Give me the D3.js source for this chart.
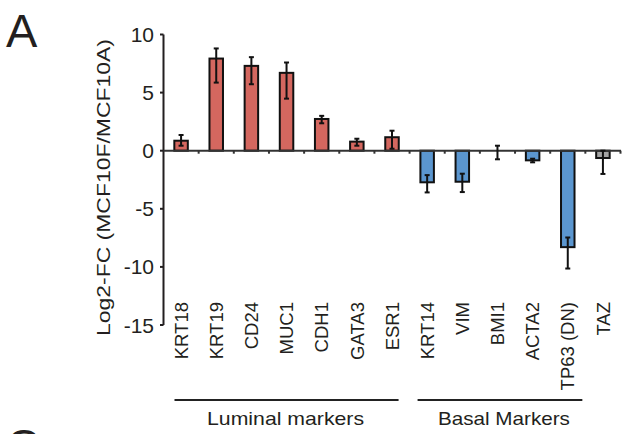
<!DOCTYPE html>
<html>
<head>
<meta charset="utf-8">
<script src="https://cdn.jsdelivr.net/npm/d3@7"></script>
<style>
  html, body { margin: 0; padding: 0; background: #fff; }
  svg { display: block; }
  text { font-family: "Liberation Sans", Arial, Helvetica, sans-serif; fill: #231f20; }
</style>
</head>
<body>
<svg id="chart" width="629" height="434"></svg>
<script>
// ---- data ----
const categories = ["KRT18", "KRT19", "CD24", "MUC1", "CDH1", "GATA3", "ESR1",
                    "KRT14", "VIM", "BMI1", "ACTA2", "TP63 (DN)", "TAZ"];
const values  = [0.86, 7.93, 7.3, 6.7, 2.73, 0.78, 1.16, -2.72, -2.67, 0.0, -0.83, -8.3, -0.63];
const errHigh = [1.35, 8.8, 8.05, 7.59, 3.0, 1.03, 1.72, -2.1, -1.98, 0.43, -0.69, -7.47, 0.0];
const errLow  = [0.43, 5.86, 5.72, 4.48, 2.36, 0.43, 0.17, -3.59, -3.56, -0.74, -1.0, -10.14, -2.0];
const groupOf = ["luminal", "luminal", "luminal", "luminal", "luminal", "luminal", "luminal",
                 "basal", "basal", "basal", "basal", "basal", "other"];
const yTicks = [-15, -10, -5, 0, 5, 10];
const groups = [
  { label: "Luminal markers", first: "KRT18", last: "ESR1" },
  { label: "Basal Markers", first: "KRT14", last: "TP63 (DN)" }
];

// ---- styles / layout ----
const colors = { luminal: "#d4675f", basal: "#5b96cf", other: "#a3a3a3" };
const ink = "#231f20";
const svg = d3.select("#chart");

const x = d3.scaleBand().domain(categories).range([163.5, 620.5]).padding(0);
const y = d3.scaleLinear().domain([-15, 10]).range([325, 34.5]);
const bw = x.bandwidth();
const barW = 13.5;
const cx = c => x(c) + bw / 2;

// panel letters
svg.append("text").attr("x", 6).attr("y", 47).attr("font-size", 47).text("A");
svg.append("text").attr("x", 6).attr("y", 462).attr("font-size", 47).text("C");

// y axis
const yAxis = svg.append("g");
yAxis.append("line")
  .attr("x1", 163.5).attr("x2", 163.5)
  .attr("y1", y(10)).attr("y2", y(-15))
  .attr("stroke", ink).attr("stroke-width", 2);
yAxis.selectAll("line.tick").data(yTicks).join("line")
  .attr("class", "tick")
  .attr("x1", 160).attr("x2", 163.5)
  .attr("y1", d => y(d)).attr("y2", d => y(d))
  .attr("stroke", ink).attr("stroke-width", 2);
yAxis.selectAll("text").data(yTicks).join("text")
  .attr("x", 154).attr("y", d => y(d))
  .attr("dy", "0.36em")
  .attr("text-anchor", "end")
  .attr("font-size", 21)
  .text(d => d);

// y axis title
svg.append("text")
  .attr("transform", `translate(110, ${(38 + 337) / 2}) rotate(-90)`)
  .attr("text-anchor", "middle")
  .attr("font-size", 18.5)
  .attr("textLength", 297)
  .attr("lengthAdjust", "spacingAndGlyphs")
  .text("Log2-FC (MCF10F/MCF10A)");

// bars
const data = categories.map((c, i) => ({ c, v: values[i], hi: errHigh[i], lo: errLow[i], g: groupOf[i] }));

svg.append("g").selectAll("rect").data(data).join("rect")
  .attr("x", d => cx(d.c) - barW / 2)
  .attr("width", barW)
  .attr("y", d => y(Math.max(0, d.v)))
  .attr("height", d => Math.abs(y(d.v) - y(0)))
  .attr("fill", d => colors[d.g])
  .attr("stroke", "#111")
  .attr("stroke-width", 2);

// zero axis line with ticks at band boundaries
const xAxis = svg.append("g");
xAxis.append("line")
  .attr("x1", 163.5).attr("x2", 621)
  .attr("y1", y(0)).attr("y2", y(0))
  .attr("stroke", "#333").attr("stroke-width", 2);
xAxis.selectAll("line.tick").data(categories).join("line")
  .attr("class", "tick")
  .attr("x1", d => x(d) + bw).attr("x2", d => x(d) + bw)
  .attr("y1", y(0)).attr("y2", y(0) + 3)
  .attr("stroke", "#333").attr("stroke-width", 2);

// error bars
const eb = svg.append("g").attr("stroke", "#111").attr("stroke-width", 2);
eb.selectAll("line.v").data(data).join("line")
  .attr("class", "v")
  .attr("x1", d => cx(d.c)).attr("x2", d => cx(d.c))
  .attr("y1", d => y(d.hi)).attr("y2", d => y(d.lo));
eb.selectAll("line.h").data(data.flatMap(d => [{ c: d.c, v: d.hi }, { c: d.c, v: d.lo }])).join("line")
  .attr("class", "h")
  .attr("x1", d => cx(d.c) - 2.5).attr("x2", d => cx(d.c) + 2.5)
  .attr("y1", d => y(d.v)).attr("y2", d => y(d.v));

// category labels
svg.append("g").selectAll("text").data(categories).join("text")
  .attr("transform", d => `translate(${cx(d)}, 302) rotate(-90)`)
  .attr("text-anchor", "end")
  .attr("dy", "0.36em")
  .attr("font-size", 18.5)
  .text(d => d);

// group brackets
const gpad = { "Luminal markers": [11, 11], "Basal Markers": [8, 3] };
const lumW = 157, basW = 132;
groups.forEach(g => {
  const x1 = x(g.first) + gpad[g.label][0];
  const x2 = x(g.last) + bw - gpad[g.label][1];
  svg.append("line")
    .attr("x1", x1).attr("x2", x2).attr("y1", 400).attr("y2", 400)
    .attr("stroke", "#222").attr("stroke-width", 2);
  svg.append("text")
    .attr("x", (x1 + x2) / 2 + (g.label === "Luminal markers" ? -1 : 4)).attr("y", 425)
    .attr("text-anchor", "middle")
    .attr("font-size", 18.5)
    .attr("textLength", g.label === "Luminal markers" ? lumW : basW)
    .attr("lengthAdjust", "spacingAndGlyphs")
    .text(g.label);
});
</script>
</body>
</html>
